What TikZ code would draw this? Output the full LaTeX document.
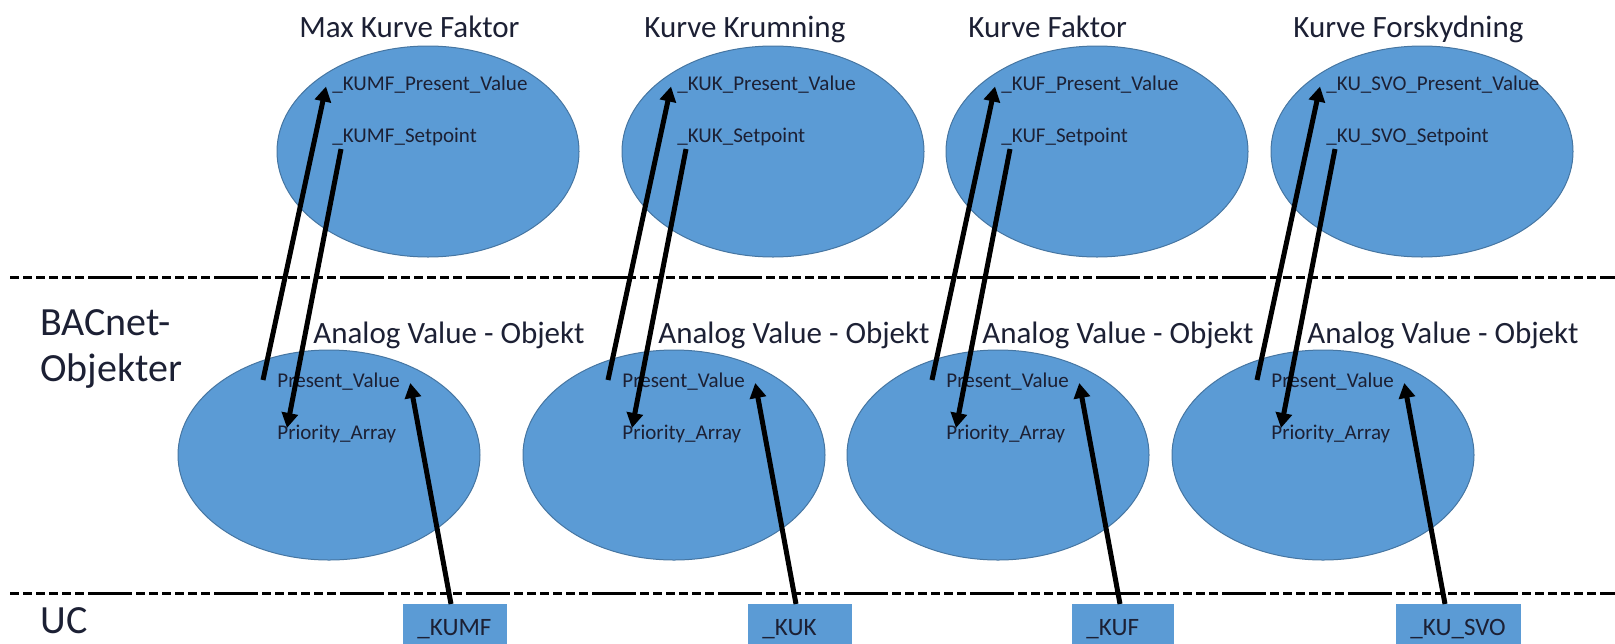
\documentclass[tikz,border=0pt]{standalone}
\usepackage{fontspec}
\setmainfont{Carlito}
\usepackage{xcolor}
\definecolor{objblue}{RGB}{91,155,213}
\definecolor{objedge}{RGB}{70,118,162}
\definecolor{ink}{RGB}{28,32,52}
\usetikzlibrary{shapes.geometric}
\usetikzlibrary{arrows.meta}

\tikzset{
  obj/.style={ellipse, fill=objblue, draw=objedge, line width=0.5pt, minimum width=151pt, inner sep=0pt},
  heading/.style={anchor=base west, inner sep=0pt, text=ink, font=\fontsize{15.5pt}{18pt}\selectfont},
  prop/.style={anchor=base west, inner sep=0pt, text=ink, font=\fontsize{10.5pt}{12pt}\selectfont},
  side/.style={anchor=base west, inner sep=0pt, text=ink, font=\fontsize{20pt}{23pt}\selectfont},
  ucbox/.style={anchor=north west, fill=objblue, minimum height=25pt, inner xsep=7pt, inner ysep=0pt, align=left, text=ink, font=\fontsize{12.5pt}{15pt}\selectfont},
  flow/.style={line width=2.5pt, -{Triangle[length=7.5pt,width=8pt]}},
  sep/.style={line width=1.5pt, dash pattern=on 4.5pt off 2pt on 4.5pt off 2pt on 4.5pt off 2pt on 4.5pt off 2pt on 4.5pt off 2pt on 4.5pt off 2pt on 22pt off 2pt}
}

\begin{document}
\begin{tikzpicture}[x=0.5pt,y=-0.5pt]
    \useasboundingbox (0,0) rectangle (1615,643);
    \clip (0,0) rectangle (1615,643);

    % layer separators
    \coordinate (sepA1) at (10,277);
    \coordinate (sepA2) at (1615,277);
    \coordinate (sepB1) at (10,593);
    \coordinate (sepB2) at (1615,593);
    \draw [sep] (sepA1) -- (sepA2);
    \draw [sep] (sepB1) -- (sepB2);

    \node [side] (bacnet) at (40,335) {BACnet-};
    \node [side] (objekter) at (40,381) {Objekter};
    \node [side] (uc) at (40,633) {UC};

    % Max Kurve Faktor
    \node [obj, minimum height=105.5pt] (kumf) at (428,151.5) {};
    \node [obj, minimum height=105pt] (av1) at (329,455) {};
    \node [heading] (kumfT) at ([shift={(-129,-114.5)}]kumf.center) {Max Kurve Faktor};
    \node [heading] (av1T) at ([shift={(-16,-112)}]av1.center) {Analog Value - Objekt};
    \node [prop] (kumfPV) at ([shift={(-96,-61)}]kumf.center) {\_KUMF\_Present\_Value};
    \node [prop] (kumfSP) at ([shift={(-96,-9)}]kumf.center) {\_KUMF\_Setpoint};
    \node [prop] (av1PV) at ([shift={(-52,-68)}]av1.center) {Present\_Value};
    \node [prop] (av1PA) at ([shift={(-52,-16)}]av1.center) {Priority\_Array};
    \node [ucbox, text width=38pt] (uc1) at ([shift={(74,149)}]av1.center) {\_KUMF};
    \draw [flow] ([shift={(-14,-7)}]av1PV.base west) -- ([shift={(-6,-4)}]kumfPV.base west);
    \draw [flow] ([shift={(9,6.5)}]kumfSP.base west) -- ([shift={(10,-11)}]av1PA.base west);
    \draw [flow] ([shift={(48,0)}]uc1.north west) -- ([shift={(10,-4)}]av1PV.base east);

    % Kurve Krumning
    \node [obj, minimum height=105.5pt] (kuk) at (773,151.5) {};
    \node [obj, minimum height=105pt] (av2) at (674,455) {};
    \node [heading] (kukT) at ([shift={(-129,-114.5)}]kuk.center) {Kurve Krumning};
    \node [heading] (av2T) at ([shift={(-16,-112)}]av2.center) {Analog Value - Objekt};
    \node [prop] (kukPV) at ([shift={(-96,-61)}]kuk.center) {\_KUK\_Present\_Value};
    \node [prop] (kukSP) at ([shift={(-96,-9)}]kuk.center) {\_KUK\_Setpoint};
    \node [prop] (av2PV) at ([shift={(-52,-68)}]av2.center) {Present\_Value};
    \node [prop] (av2PA) at ([shift={(-52,-16)}]av2.center) {Priority\_Array};
    \node [ucbox, text width=38pt] (uc2) at ([shift={(74,149)}]av2.center) {\_KUK};
    \draw [flow] ([shift={(-14,-7)}]av2PV.base west) -- ([shift={(-6,-4)}]kukPV.base west);
    \draw [flow] ([shift={(9,6.5)}]kukSP.base west) -- ([shift={(10,-11)}]av2PA.base west);
    \draw [flow] ([shift={(48,0)}]uc2.north west) -- ([shift={(10,-4)}]av2PV.base east);

    % Kurve Faktor
    \node [obj, minimum height=105.5pt] (kuf) at (1097,151.5) {};
    \node [obj, minimum height=105pt] (av3) at (998,455) {};
    \node [heading] (kufT) at ([shift={(-129,-114.5)}]kuf.center) {Kurve Faktor};
    \node [heading] (av3T) at ([shift={(-16,-112)}]av3.center) {Analog Value - Objekt};
    \node [prop] (kufPV) at ([shift={(-96,-61)}]kuf.center) {\_KUF\_Present\_Value};
    \node [prop] (kufSP) at ([shift={(-96,-9)}]kuf.center) {\_KUF\_Setpoint};
    \node [prop] (av3PV) at ([shift={(-52,-68)}]av3.center) {Present\_Value};
    \node [prop] (av3PA) at ([shift={(-52,-16)}]av3.center) {Priority\_Array};
    \node [ucbox, text width=37pt] (uc3) at ([shift={(74,149)}]av3.center) {\_KUF};
    \draw [flow] ([shift={(-14,-7)}]av3PV.base west) -- ([shift={(-6,-4)}]kufPV.base west);
    \draw [flow] ([shift={(9,6.5)}]kufSP.base west) -- ([shift={(10,-11)}]av3PA.base west);
    \draw [flow] ([shift={(48,0)}]uc3.north west) -- ([shift={(10,-4)}]av3PV.base east);

    % Kurve Forskydning
    \node [obj, minimum height=105.5pt] (kusvo) at (1422,151.5) {};
    \node [obj, minimum height=105pt] (av4) at (1323,455) {};
    \node [heading] (kusvoT) at ([shift={(-129,-114.5)}]kusvo.center) {Kurve Forskydning};
    \node [heading] (av4T) at ([shift={(-16,-112)}]av4.center) {Analog Value - Objekt};
    \node [prop] (kusvoPV) at ([shift={(-96,-61)}]kusvo.center) {\_KU\_SVO\_Present\_Value};
    \node [prop] (kusvoSP) at ([shift={(-96,-9)}]kusvo.center) {\_KU\_SVO\_Setpoint};
    \node [prop] (av4PV) at ([shift={(-52,-68)}]av4.center) {Present\_Value};
    \node [prop] (av4PA) at ([shift={(-52,-16)}]av4.center) {Priority\_Array};
    \node [ucbox, text width=48.5pt] (uc4) at ([shift={(73,149)}]av4.center) {\_KU\_SVO};
    \draw [flow] ([shift={(-14,-7)}]av4PV.base west) -- ([shift={(-6,-4)}]kusvoPV.base west);
    \draw [flow] ([shift={(9,6.5)}]kusvoSP.base west) -- ([shift={(10,-11)}]av4PA.base west);
    \draw [flow] ([shift={(49,0)}]uc4.north west) -- ([shift={(10,-4)}]av4PV.base east);
\end{tikzpicture}
\end{document}
